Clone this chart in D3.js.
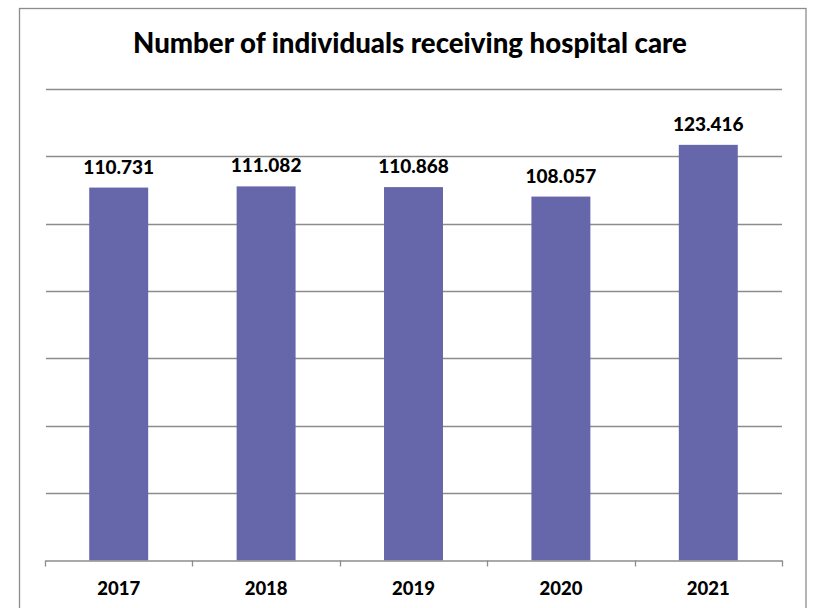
<!DOCTYPE html>
<html>
<head>
<meta charset="utf-8">
<script src="https://cdn.jsdelivr.net/npm/d3@7"></script>
<style>
  html, body { margin: 0; padding: 0; background: #fff; }
  svg { display: block; }
  text { font-family: Lato, "Open Sans", sans-serif; font-weight: 900; fill: #000; }
</style>
</head>
<body>
<svg id="chart" width="814" height="608"></svg>
<script>
const title = "Number of individuals receiving hospital care";
const categories = ["2017", "2018", "2019", "2020", "2021"];
const values = [110.731, 111.082, 110.868, 108.057, 123.416];
const valueLabels = ["110.731", "111.082", "110.868", "108.057", "123.416"];
const yTicks = [0, 20, 40, 60, 80, 100, 120, 140];

const svg = d3.select("#chart");
const plot = { left: 45, right: 782, top: 89, bottom: 560.5 };

// outer border
svg.append("rect")
  .attr("x", 19.5).attr("y", 8.5)
  .attr("width", 806 - 19.5).attr("height", 640)
  .attr("fill", "#fff").attr("stroke", "#8c8c8c").attr("stroke-width", 1.3);

const xOuter = d3.scaleBand().domain(categories).range([plot.left, plot.right]);
const y = d3.scaleLinear().domain([0, 140]).range([plot.bottom, plot.top]);

// gridlines
svg.append("g").selectAll("line")
  .data(yTicks.filter(t => t > 0))
  .join("line")
  .attr("x1", plot.left + 1).attr("x2", plot.right)
  .attr("y1", d => Math.round(y(d)) + 0.5).attr("y2", d => Math.round(y(d)) + 0.5)
  .attr("stroke", "#8c8c8c").attr("stroke-width", 1.3);

// bars
const bw = xOuter.bandwidth() * 0.4;
svg.append("g").selectAll("rect")
  .data(categories)
  .join("rect")
  .attr("x", (d) => xOuter(d) + xOuter.bandwidth() / 2 - bw / 2)
  .attr("width", bw)
  .attr("y", (d, i) => y(values[i]))
  .attr("height", (d, i) => y(0) - y(values[i]))
  .attr("fill", "#6666aa");

// x axis
const axis = d3.axisBottom(xOuter).tickSize(0).tickFormat(d => d);
const ax = svg.append("g").attr("transform", `translate(0,${plot.bottom})`).call(axis);
ax.select(".domain").attr("stroke", "#8c8c8c").attr("stroke-width", 1.3);
ax.selectAll(".tick text").attr("dy", 0).attr("y", 34).style("font-size", "18.5px")
  .style("font-family", "Lato, sans-serif").style("font-weight", "900").attr("fill", "#000");
// category boundary ticks
const bounds = categories.map(c => xOuter(c)).concat([plot.right]);
svg.append("g").selectAll("line").data(bounds).join("line")
  .attr("x1", d => Math.round(d) + 0.5).attr("x2", d => Math.round(d) + 0.5)
  .attr("y1", plot.bottom).attr("y2", plot.bottom + 6)
  .attr("stroke", "#8c8c8c").attr("stroke-width", 1.3);

// value labels
svg.append("g").selectAll("text")
  .data(categories)
  .join("text")
  .attr("x", d => xOuter(d) + xOuter.bandwidth() / 2)
  .attr("y", (d, i) => y(values[i]) - 14)
  .attr("text-anchor", "middle")
  .style("font-size", "19px")
  .text((d, i) => valueLabels[i]);

// title
const t = svg.append("text")
  .attr("x", 410).attr("y", 53)
  .attr("text-anchor", "middle")
  .style("font-size", "25px")
  .text(title);
const tw = t.node().getComputedTextLength();
t.style("font-size", (25 * 554 / tw) + "px");
</script>
</body>
</html>
